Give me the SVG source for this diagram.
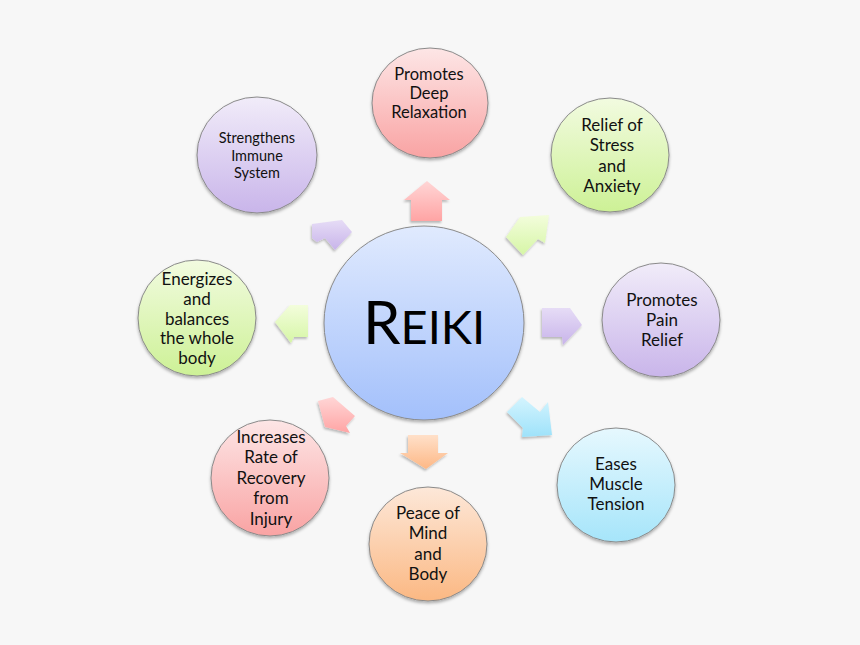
<svg xmlns="http://www.w3.org/2000/svg" width="860" height="645" viewBox="0 0 860 645">
<defs>
<style>
.lbl{font-family:Lato,"Open Sans","Liberation Sans",sans-serif;fill:#111;text-anchor:middle;dominant-baseline:central}
.node{stroke:#8a8a8a;stroke-width:1;filter:url(#sh)}
.arr{filter:url(#ash)}
</style>
<filter id="sh" x="-20%" y="-20%" width="140%" height="140%"><feDropShadow dx="0" dy="2" stdDeviation="1.5" flood-color="#000" flood-opacity="0.3"/></filter>
<filter id="ash" x="-30%" y="-30%" width="160%" height="160%"><feDropShadow dx="-1" dy="2" stdDeviation="1" flood-color="#000" flood-opacity="0.25"/></filter>
<linearGradient id="gPink" x1="0" y1="0" x2="0" y2="1"><stop offset="0" stop-color="#fde6e6"/><stop offset="1" stop-color="#f9a3a3"/></linearGradient>
<linearGradient id="gGreen" x1="0" y1="0" x2="0" y2="1"><stop offset="0" stop-color="#f2fbe0"/><stop offset="1" stop-color="#cdf196"/></linearGradient>
<linearGradient id="gLav" x1="0" y1="0" x2="0" y2="1"><stop offset="0" stop-color="#f1ecf9"/><stop offset="1" stop-color="#c9b5ea"/></linearGradient>
<linearGradient id="gCyan" x1="0" y1="0" x2="0" y2="1"><stop offset="0" stop-color="#e6f8fe"/><stop offset="1" stop-color="#a6e5fa"/></linearGradient>
<linearGradient id="gOrange" x1="0" y1="0" x2="0" y2="1"><stop offset="0" stop-color="#fde8d9"/><stop offset="1" stop-color="#fbb883"/></linearGradient>
<linearGradient id="gBlue" x1="0" y1="0" x2="0" y2="1"><stop offset="0" stop-color="#e0eafe"/><stop offset="1" stop-color="#a3c0fb"/></linearGradient>
<linearGradient id="aPink" x1="0" y1="0" x2="0" y2="1"><stop offset="0" stop-color="#ffd6d6"/><stop offset="1" stop-color="#ffa4a4"/></linearGradient>
<linearGradient id="aGreen" x1="0" y1="0" x2="0" y2="1"><stop offset="0" stop-color="#f3fddc"/><stop offset="1" stop-color="#d6f6a6"/></linearGradient>
<linearGradient id="aLav" x1="0" y1="0" x2="0" y2="1"><stop offset="0" stop-color="#e6dcf6"/><stop offset="1" stop-color="#c8b4ea"/></linearGradient>
<linearGradient id="aCyan" x1="0" y1="0" x2="0" y2="1"><stop offset="0" stop-color="#d4f4fe"/><stop offset="1" stop-color="#9ee2fa"/></linearGradient>
<linearGradient id="aOrange" x1="0" y1="0" x2="0" y2="1"><stop offset="0" stop-color="#ffe0c9"/><stop offset="1" stop-color="#fdb886"/></linearGradient>
</defs>
<rect width="860" height="645" fill="#f7f7f7"/>

<g id="connectors">
<polygon class="arr" fill="url(#aPink)" points="427,181 450,200 442,200 442,221 411,221 411,200 404,200"/>
<polygon class="arr" fill="url(#aGreen)" points="549,215 520,217 506,237 523,255 538,239 545,243"/>
<polygon class="arr" fill="url(#aLav)" points="542,308 570,308 582,325 563,345 562,337 542,337"/>
<polygon class="arr" fill="url(#aCyan)" points="522,397 507,412 523,428 522,437 552,435 548,402 540,412"/>
<polygon class="arr" fill="url(#aOrange)" points="408,435 438,435 438,453 448,453 426,469 400,453 408,453"/>
<polygon class="arr" fill="url(#aPink)" points="318,401 333,397 355,416 346,426 350,433 325,427"/>
<polygon class="arr" fill="url(#aGreen)" points="275,322 290,305 308,305 308,337 294,337 291,343"/>
<polygon class="arr" fill="url(#aLav)" points="312,224 342,220 352,232 335,250 325,238 317,242 312,238"/>
</g>

<g id="reiki">
<ellipse class="node" cx="424" cy="323" rx="100" ry="97" fill="url(#gBlue)"/>
<text x="424" y="344" font-family="Lato,'Open Sans','Liberation Sans',sans-serif" font-size="60" fill="#000" text-anchor="middle">R<tspan font-size="47">EIKI</tspan></text>
</g>

<g id="relaxation">
<ellipse class="node" cx="430" cy="103" rx="58" ry="55" fill="url(#gPink)"/>
<text class="lbl" font-size="16.5"><tspan x="429" y="74">Promotes</tspan><tspan x="429" y="93">Deep</tspan><tspan x="429" y="112">Relaxation</tspan></text>
</g>

<g id="stress">
<ellipse class="node" cx="610" cy="155" rx="59" ry="57" fill="url(#gGreen)"/>
<text class="lbl" font-size="17"><tspan x="612" y="124">Relief of</tspan><tspan x="612" y="144">Stress</tspan><tspan x="612" y="165">and</tspan><tspan x="612" y="185">Anxiety</tspan></text>
</g>

<g id="pain">
<ellipse class="node" cx="661" cy="320" rx="59" ry="57" fill="url(#gLav)"/>
<text class="lbl" font-size="17"><tspan x="662" y="299">Promotes</tspan><tspan x="662" y="319">Pain</tspan><tspan x="662" y="339">Relief</tspan></text>
</g>

<g id="muscle">
<ellipse class="node" cx="616" cy="485" rx="59" ry="57" fill="url(#gCyan)"/>
<text class="lbl" font-size="17"><tspan x="616" y="463">Eases</tspan><tspan x="616" y="483">Muscle</tspan><tspan x="616" y="503">Tension</tspan></text>
</g>

<g id="peace">
<ellipse class="node" cx="428" cy="544" rx="59" ry="57" fill="url(#gOrange)"/>
<text class="lbl" font-size="17"><tspan x="428" y="512">Peace of</tspan><tspan x="428" y="532">Mind</tspan><tspan x="428" y="553">and</tspan><tspan x="428" y="573">Body</tspan></text>
</g>

<g id="injury">
<ellipse class="node" cx="270" cy="478" rx="59" ry="58" fill="url(#gPink)"/>
<text class="lbl" font-size="17"><tspan x="271" y="436">Increases</tspan><tspan x="271" y="456">Rate of</tspan><tspan x="271" y="477">Recovery</tspan><tspan x="271" y="497">from</tspan><tspan x="271" y="518">Injury</tspan></text>
</g>

<g id="energizes">
<ellipse class="node" cx="197" cy="318" rx="59" ry="58" fill="url(#gGreen)"/>
<text class="lbl" font-size="17"><tspan x="197" y="278">Energizes</tspan><tspan x="197" y="298">and</tspan><tspan x="197" y="318">balances</tspan><tspan x="197" y="337">the whole</tspan><tspan x="197" y="357">body</tspan></text>
</g>

<g id="immune">
<ellipse class="node" cx="257" cy="155" rx="60" ry="58" fill="url(#gLav)"/>
<text class="lbl" font-size="14.5"><tspan x="257" y="137">Strengthens</tspan><tspan x="257" y="155">Immune</tspan><tspan x="257" y="172">System</tspan></text>
</g>
</svg>
